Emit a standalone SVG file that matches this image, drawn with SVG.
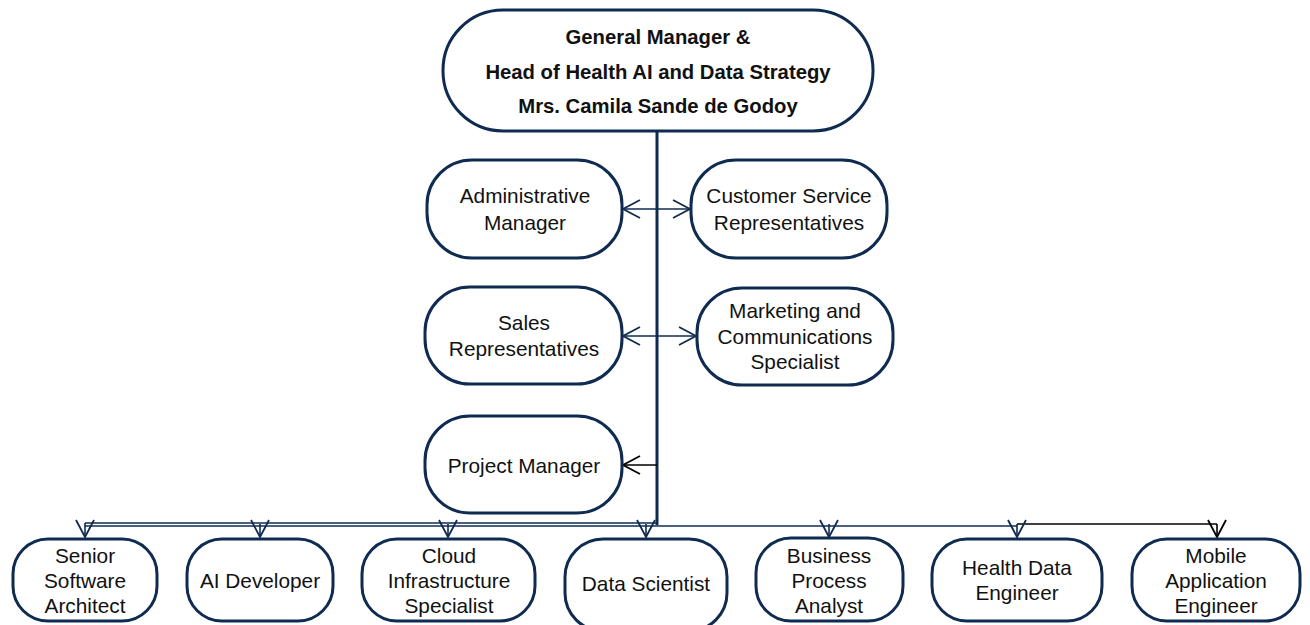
<svg xmlns="http://www.w3.org/2000/svg" width="1310" height="625" viewBox="0 0 1310 625">
<defs>
<style>
.box{fill:#fff;stroke:#0f2b50;stroke-width:3}
.t{font-family:"Liberation Sans",Arial,sans-serif;font-size:20.8px;fill:#111;text-anchor:middle}
.tb{font-family:"Liberation Sans",Arial,sans-serif;font-size:20.3px;font-weight:bold;fill:#111;text-anchor:middle}
.c{fill:none;stroke:#0f2b50;stroke-width:1.6}
.k{fill:none;stroke:#000;stroke-width:1.6}
</style>
<marker id="an" viewBox="0 0 20 20" refX="18" refY="10" markerWidth="20" markerHeight="20" markerUnits="userSpaceOnUse" orient="auto-start-reverse">
<path d="M1,1 L18,10 L1,19" fill="none" stroke="#0f2b50" stroke-width="1.8"/>
</marker>
<marker id="ak" viewBox="0 0 20 20" refX="18" refY="10" markerWidth="20" markerHeight="20" markerUnits="userSpaceOnUse" orient="auto">
<path d="M1,1 L18,10 L1,19" fill="none" stroke="#000" stroke-width="1.8"/>
</marker>
</defs>
<rect width="1310" height="625" fill="#fff"/>
<g id="connectors">
<line x1="657" y1="131" x2="657" y2="525" stroke="#0f2b50" stroke-width="3"/>
<line class="c" x1="623" y1="209" x2="690" y2="209" marker-start="url(#an)" marker-end="url(#an)"/>
<line class="c" x1="623" y1="336" x2="696" y2="336" marker-start="url(#an)" marker-end="url(#an)"/>
<line class="k" x1="657" y1="465" x2="623" y2="465" marker-end="url(#ak)"/>
<line class="c" x1="85" y1="523" x2="657" y2="523"/>
<line class="c" x1="85" y1="526" x2="1017" y2="526"/>
<line class="k" x1="1017" y1="524" x2="1217" y2="524"/>
<line class="c" x1="85" y1="523" x2="85" y2="537" marker-end="url(#an)"/>
<line class="c" x1="260" y1="524" x2="260" y2="537" marker-end="url(#an)"/>
<line class="c" x1="448" y1="524" x2="448" y2="537" marker-end="url(#an)"/>
<line class="c" x1="646" y1="524" x2="646" y2="537" marker-end="url(#an)"/>
<line class="c" x1="829" y1="524" x2="829" y2="537" marker-end="url(#an)"/>
<line class="c" x1="1017" y1="524" x2="1017" y2="537" marker-end="url(#an)"/>
<line class="k" x1="1217" y1="524" x2="1217" y2="537" marker-end="url(#ak)"/>
</g>
<g id="gm">
<rect class="box" x="443" y="10" width="430" height="121" rx="60" ry="60"/>
<text class="tb" x="658" y="44">General Manager &amp;</text>
<text class="tb" x="658" y="79">Head of Health AI and Data Strategy</text>
<text class="tb" x="658" y="113">Mrs. Camila Sande de Godoy</text>
</g>
<g id="admin">
<rect class="box" x="427" y="160" width="195" height="98" rx="45" ry="45"/>
<text class="t" x="525" y="203">Administrative</text>
<text class="t" x="525" y="230">Manager</text>
</g>
<g id="customer">
<rect class="box" x="691" y="160" width="196" height="98" rx="45" ry="45"/>
<text class="t" x="789" y="203">Customer Service</text>
<text class="t" x="789" y="230">Representatives</text>
</g>
<g id="sales">
<rect class="box" x="425" y="287" width="197" height="97" rx="45" ry="45"/>
<text class="t" x="524" y="330">Sales</text>
<text class="t" x="524" y="356">Representatives</text>
</g>
<g id="marketing">
<rect class="box" x="697" y="288" width="196" height="97" rx="45" ry="45"/>
<text class="t" x="795" y="318">Marketing and</text>
<text class="t" x="795" y="344">Communications</text>
<text class="t" x="795" y="369">Specialist</text>
</g>
<g id="project">
<rect class="box" x="425" y="416" width="197" height="97" rx="45" ry="45"/>
<text class="t" x="524" y="473">Project Manager</text>
</g>
<g id="ssa">
<rect class="box" x="13" y="539" width="144" height="82" rx="35" ry="35"/>
<text class="t" x="85" y="563">Senior</text>
<text class="t" x="85" y="588">Software</text>
<text class="t" x="85" y="613">Architect</text>
</g>
<g id="aidev">
<rect class="box" x="187" y="539" width="146" height="82" rx="35" ry="35"/>
<text class="t" x="260" y="588">AI Developer</text>
</g>
<g id="cloud">
<rect class="box" x="362" y="539" width="173" height="82" rx="35" ry="35"/>
<text class="t" x="449" y="563">Cloud</text>
<text class="t" x="449" y="588">Infrastructure</text>
<text class="t" x="449" y="613">Specialist</text>
</g>
<g id="datasci">
<rect class="box" x="565" y="539" width="162" height="92" rx="38" ry="38"/>
<text class="t" x="646" y="591">Data Scientist</text>
</g>
<g id="bpa">
<rect class="box" x="756" y="538" width="147" height="83" rx="35" ry="35"/>
<text class="t" x="829" y="563">Business</text>
<text class="t" x="829" y="588">Process</text>
<text class="t" x="829" y="613">Analyst</text>
</g>
<g id="hde">
<rect class="box" x="932" y="539" width="170" height="82" rx="35" ry="35"/>
<text class="t" x="1017" y="575">Health Data</text>
<text class="t" x="1017" y="600">Engineer</text>
</g>
<g id="mae">
<rect class="box" x="1132" y="539" width="168" height="82" rx="35" ry="35"/>
<text class="t" x="1216" y="563">Mobile</text>
<text class="t" x="1216" y="588">Application</text>
<text class="t" x="1216" y="613">Engineer</text>
</g>
</svg>
